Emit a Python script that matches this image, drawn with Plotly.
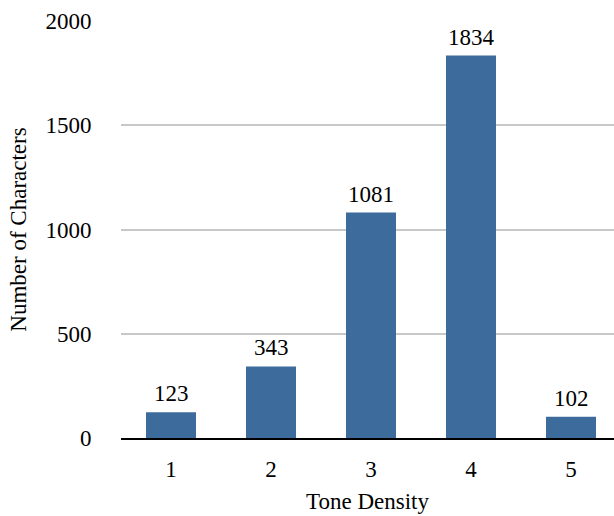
import plotly.graph_objects as go

# Character counts per tone density level
tone_density = [1, 2, 3, 4, 5]
char_counts = [123, 343, 1081, 1834, 102]
y_ticks = [0, 500, 1000, 1500, 2000]

BAR_COLOR = "#3D6B9C"
FONT = "Liberation Serif, Times New Roman, serif"
FS = 23

fig = go.Figure(
    go.Bar(
        x=tone_density,
        y=char_counts,
        marker=dict(color=BAR_COLOR, line=dict(width=0)),
        width=0.5,
    )
)

# value labels just above each bar
for x, v in zip(tone_density, char_counts):
    fig.add_annotation(
        x=x, y=v, text=str(v), showarrow=False,
        yanchor="bottom", yshift=4,
        font=dict(family=FONT, size=FS, color="black"),
    )

fig.update_layout(
    width=614,
    height=516,
    margin=dict(l=121, r=0, t=21, b=78),
    paper_bgcolor="white",
    plot_bgcolor="white",
    font=dict(family=FONT, size=FS, color="black"),
    showlegend=False,
    xaxis=dict(
        range=[0.5, 5.43],
        tickmode="array",
        tickvals=tone_density,
        ticktext=[str(t) for t in tone_density],
        showgrid=False,
        showline=True,
        linecolor="black",
        linewidth=2,
        ticks="outside",
        ticklen=9,
        tickcolor="rgba(0,0,0,0)",
        title=dict(text="Tone Density", standoff=12, font=dict(size=FS)),
        zeroline=False,
    ),
    yaxis=dict(
        range=[0, 2000],
        tickmode="array",
        tickvals=y_ticks,
        ticktext=[str(t) for t in y_ticks],
        showgrid=True,
        gridcolor="#C8C8C8",
        gridwidth=2,
        zeroline=False,
        showline=False,
        ticks="outside",
        ticklen=24,
        tickcolor="rgba(0,0,0,0)",
        title=dict(text="Number of Characters", standoff=12, font=dict(size=FS)),
    ),
)

fig.write_html("out.html")
